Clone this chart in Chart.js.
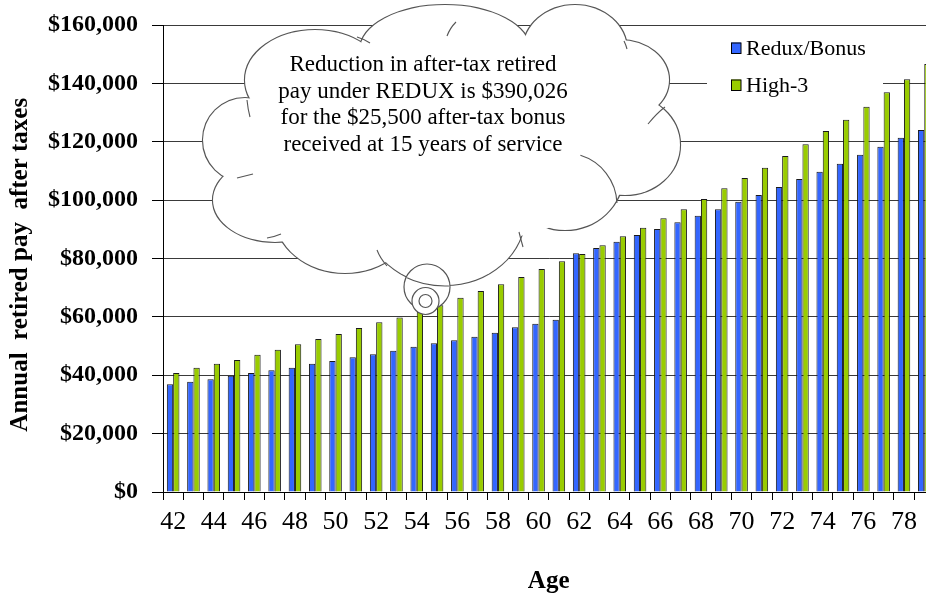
<!DOCTYPE html>
<html>
<head>
<meta charset="utf-8">
<script src="https://cdn.jsdelivr.net/npm/chart.js@4"></script>
<style>
  html, body { margin: 0; padding: 0; overflow: hidden; background: #fff; }
  canvas { display: block; }
</style>
</head>
<body>
<canvas id="chart" width="940" height="597"></canvas>
<script>
// ages along the x axis (last one is cut off by the page edge)
const ages = [42, 43, 44, 45, 46, 47, 48, 49, 50, 51, 52, 53, 54, 55, 56, 57, 58, 59, 60, 61,
  62, 63, 64, 65, 66, 67, 68, 69, 70, 71, 72, 73, 74, 75, 76, 77, 78, 79];

const reduxBonus = [36900, 37800, 38600, 39850, 40770, 41690, 42590, 43960, 44880, 46150,
  47170, 48400, 49780, 50940, 51960, 53220, 54590, 56420, 57670, 59040,
  81770, 83600, 85760, 88050, 90100, 92390, 94670, 96840, 99460, 101750,
  104490, 107230, 109740, 112480, 115570, 118300, 121380, 124020];

const high3 = [40770, 42600, 43960, 45200, 47040, 48750, 50600, 52420, 54130, 56200,
  58200, 59800, 61800, 64000, 66570, 68860, 71150, 73660, 76400, 79030,
  81500, 84500, 87590, 90560, 93770, 96840, 100380, 104040, 107580, 111110,
  115110, 119110, 123680, 127560, 132010, 136930, 141380, 146630];

const yMax = 160000;
const yStep = 20000;

const calloutLines = [
  'Reduction in after-tax retired',
  'pay under REDUX is $390,026',
  'for the $25,500 after-tax bonus',
  'received at 15 years of service'
];

const blue = '#3366ff';
const green = '#99cc00';
const serif = "'Liberation Serif', 'Times New Roman', serif";

Chart.defaults.font.family = serif;
Chart.defaults.color = '#000';

function ellipsePath(ctx, b) {
  ctx.beginPath();
  ctx.ellipse(b[0], b[1], b[2], b[3], 0, 0, Math.PI * 2);
}

// cloud callout + legend drawn on top of the plot
const overlay = {
  id: 'overlay',
  afterDraw(chart) {
    const ctx = chart.ctx;
    ctx.save();

    // legend
    ctx.fillStyle = '#fff';
    ctx.fillRect(707, 28, 176, 76);
    const items = [['Redux/Bonus', blue, 48], ['High-3', green, 85]];
    ctx.font = '22px ' + serif;
    ctx.textBaseline = 'middle';
    ctx.textAlign = 'left';
    items.forEach(([txt, col, y]) => {
      ctx.fillStyle = col;
      ctx.fillRect(731, y - 5.5, 10, 11);
      ctx.strokeStyle = '#000';
      ctx.lineWidth = 1;
      ctx.strokeRect(731.5, y - 5, 9.5, 10.5);
      ctx.fillStyle = '#000';
      ctx.fillText(txt, 746, y + 1);
    });

    // cloud made of overlapping bumps
    const bumps = [
      [245, 140, 42, 42],
      [275, 200, 62, 42],
      [345, 215, 70, 58],
      [445, 215, 80, 70],
      [565, 175, 58, 55],
      [625, 145, 55, 50],
      [620, 80, 49, 40],
      [575, 50, 52, 45],
      [445, 50, 85, 45],
      [315, 80, 70, 50]
    ];
    ctx.strokeStyle = '#555';
    ctx.lineWidth = 2.2;
    bumps.forEach(b => { ellipsePath(ctx, b); ctx.stroke(); });
    ctx.fillStyle = '#fff';
    bumps.forEach(b => { ellipsePath(ctx, b); ctx.fill(); });
    ellipsePath(ctx, [440, 150, 190, 95]);
    ctx.fill();

    // little inner curls of the cloud
    ctx.lineWidth = 1.1;
    ctx.beginPath();
    ctx.arc(565, 205, 52, -1.27, -0.04);
    ctx.stroke();
    const curls = [
      [247, 100, 248, 110, 250, 117],
      [237, 178, 245, 176, 253, 174],
      [267, 238, 274, 237, 281, 234],
      [377, 250, 380, 258, 387, 266],
      [519, 232, 521, 240, 523, 247],
      [357, 37, 364, 39, 370, 43],
      [447, 36, 450, 28, 456, 22],
      [648, 124, 657, 113, 665, 107],
      [624, 41, 626, 45, 627, 49]
    ];
    curls.forEach(c => {
      ctx.beginPath();
      ctx.moveTo(c[0], c[1]);
      ctx.quadraticCurveTo(c[2], c[3], c[4], c[5]);
      ctx.stroke();
    });

    // thought bubbles
    ctx.lineWidth = 1.2;
    ctx.beginPath();
    ctx.arc(427, 287, 23, 0, Math.PI * 2);
    ctx.fillStyle = '#fff';
    ctx.fill();
    ctx.stroke();
    // cloud edge shows through the big bubble
    ctx.save();
    ctx.beginPath();
    ctx.arc(427, 287, 22, 0, Math.PI * 2);
    ctx.clip();
    ctx.lineWidth = 1.1;
    ellipsePath(ctx, [445, 215, 81, 71]);
    ctx.stroke();
    ctx.restore();
    ctx.beginPath();
    ctx.arc(425.5, 301, 13.5, 0, Math.PI * 2);
    ctx.fillStyle = '#fff';
    ctx.fill();
    ctx.stroke();
    ctx.beginPath();
    ctx.arc(425.5, 301, 6.5, 0, Math.PI * 2);
    ctx.stroke();

    // callout text
    ctx.fillStyle = '#000';
    ctx.font = '23px ' + serif;
    ctx.textAlign = 'center';
    calloutLines.forEach((line, i) => {
      ctx.fillText(line, 423, 65 + i * 26.7);
    });

    ctx.restore();
  }
};

new Chart(document.getElementById('chart'), {
  type: 'bar',
  data: {
    labels: ages,
    datasets: [
      {
        label: 'Redux/Bonus',
        data: reduxBonus,
        backgroundColor: blue,
        borderColor: '#1a1a1a',
        borderWidth: 1,
        borderSkipped: 'bottom'
      },
      {
        label: 'High-3',
        data: high3,
        backgroundColor: green,
        borderColor: '#1a1a1a',
        borderWidth: 1,
        borderSkipped: 'bottom'
      }
    ]
  },
  options: {
    responsive: false,
    animation: false,
    categoryPercentage: 0.62,
    barPercentage: 1.0,
    layout: { padding: { top: 25, right: 5.6, bottom: 0, left: 0 } },
    plugins: {
      legend: { display: false },
      tooltip: { enabled: false }
    },
    scales: {
      x: {
        afterFit(scale) { scale.height = 105; },
        grid: { drawOnChartArea: false, tickLength: 8, color: '#000' },
        border: { color: '#000', width: 1 },
        ticks: {
          autoSkip: false,
          maxRotation: 0,
          padding: 7,
          font: { size: 26 },
          callback(value, index) {
            return index % 2 === 0 ? this.getLabelForValue(value) : '';
          }
        },
        title: {
          display: true,
          text: 'Age',
          font: { size: 25, weight: 'bold' },
          padding: { top: 0, bottom: 0 }
        }
      },
      y: {
        min: 0,
        max: yMax,
        afterFit(scale) {
          scale.width = 163;
          scale.paddingTop = 0;
          scale.paddingBottom = 0;
        },
        grid: { color: '#3a3a3a', tickColor: '#000', tickLength: 11 },
        border: { color: '#000', width: 1 },
        ticks: {
          stepSize: yStep,
          padding: 14,
          font: { size: 24, weight: 'bold' },
          callback: v => '$' + v.toLocaleString('en-US')
        },
        title: {
          display: true,
          text: 'Annual  retired pay  after taxes  ',
          font: { size: 25, weight: 'bold' },
          padding: { top: 6, bottom: 0 }
        }
      }
    }
  },
  plugins: [overlay]
});
</script>
</body>
</html>
